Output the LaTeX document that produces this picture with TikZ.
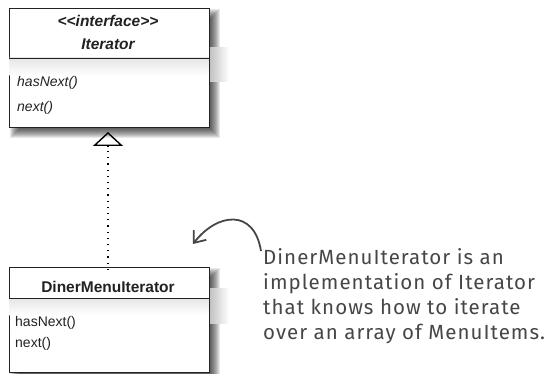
\documentclass[tikz,border=0pt]{standalone}
\usepackage{fontspec}
\setmainfont{Liberation Sans}
\newfontfamily\handfont[LetterSpace=5]{Fira Sans}
\usepackage{tikz}
\usetikzlibrary{arrows.meta,positioning,calc}
\definecolor{inkgray}{RGB}{34,34,34}
\definecolor{notegray}{RGB}{70,70,70}

\begin{document}
\begin{tikzpicture}[x=1pt, y=-1pt,
    umlbox/.style={rectangle, draw=inkgray, line width=0.9pt, fill=white,
                   inner sep=0pt, outer sep=0pt, minimum width=200pt, anchor=north west},
    title/.style={font=\fontsize{15.5}{17}\selectfont\bfseries, text=inkgray},
    method/.style={font=\fontsize{14}{16}\selectfont, text=inkgray, anchor=base west, inner sep=0pt},
    realizes/.style={line width=1.4pt, dash pattern=on 1.2pt off 5pt,
                     -{Triangle[open, length=14pt, width=30pt, line width=1.4pt]}, shorten >=5pt},
    note/.style={font=\handfont\fontsize{20.5}{25}\selectfont, text=notegray, align=left,
                 inner sep=0pt, anchor=base west},
    pointer/.style={-{Straight Barb[length=10pt, width=16pt]}, line width=1.8pt, notegray}]

    \useasboundingbox (0,0) rectangle (556,374);

    % Shadows
    \foreach \s in {-5,...,5} {
        \fill[black, opacity=0.09] (15-\s,14-\s) rectangle (215+\s,133+\s);
        \fill[black, opacity=0.09] (15-\s,273-\s) rectangle (215+\s,378+\s);
    }
    \shade[left color=gray!50, right color=white] (209,48) rectangle (229,82);
    \shade[left color=gray!50, right color=white] (209,288) rectangle (229,323);

    % Interface
    \node[umlbox, minimum height=119pt] (iter) at (9,8) {};
    \shade[top color=gray!20, bottom color=white] (9.5,58) rectangle (208.5,76);
    \draw[inkgray, line width=0.9pt] ([yshift=-50pt]iter.north west) -- ([yshift=-50pt]iter.north east);
    \node[title, font=\fontsize{15.5}{17}\selectfont\bfseries\itshape, anchor=base] (stereo) at (108,27) {{<}{<}interface{>}{>}};
    \node[title, font=\fontsize{15.5}{17}\selectfont\bfseries\itshape, anchor=base] (iname) at (108,50) {Iterator};
    \node[method, font=\fontsize{14}{16}\selectfont\itshape] (ihas) at (17,87) {hasNext()};
    \node[method, font=\fontsize{14}{16}\selectfont\itshape] (inext) at (17,112) {next()};

    % Implementation
    \node[umlbox, minimum height=105pt] (diner) at (9,267) {};
    \shade[top color=gray!20, bottom color=white] (9.5,298) rectangle (208.5,315);
    \draw[inkgray, line width=0.9pt] ([yshift=-31pt]diner.north west) -- ([yshift=-31pt]diner.north east);
    \node[title, anchor=base] (dname) at (108,292) {DinerMenuIterator};
    \node[method] (dhas) at (15,326) {hasNext()};
    \node[method] (dnext) at (15,347) {next()};

    % Realization
    \draw[realizes] ([yshift=-3pt]diner.north -| iname) -- (iter.south -| iname);

    % Annotation
    \node[note] (memo) at (263,339) {DinerMenuIterator is an\\
        implementation of Iterator\\
        that knows how to iterate\\
        over an array of MenuItems.};
    \coordinate (from) at (261,251);
    \coordinate (to) at (193,244);
    \draw[pointer] (from) .. controls (254,208) and (217,213) .. (to);
\end{tikzpicture}
\end{document}
